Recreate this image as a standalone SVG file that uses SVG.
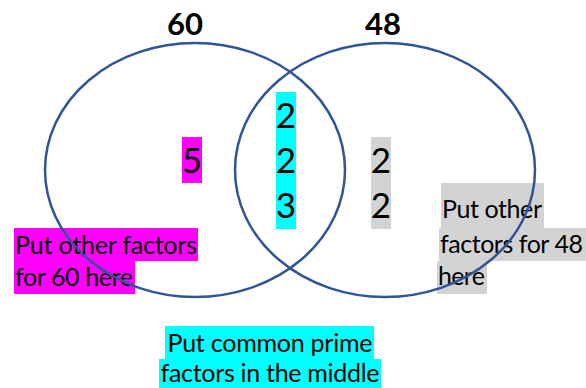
<svg xmlns="http://www.w3.org/2000/svg" width="586" height="388" viewBox="0 0 586 388">
  <style>
    .title { font-family: Lato, "Open Sans", "Liberation Sans", sans-serif; font-weight: bold; font-size: 31px; fill: #000; text-anchor: middle; }
    .digit { font-family: Lato, "Open Sans", "Liberation Sans", sans-serif; font-size: 35px; fill: #000; text-anchor: middle; }
    .label { font-family: Lato, "Open Sans", "Liberation Sans", sans-serif; font-size: 25px; fill: #000; }
    .mid { text-anchor: middle; }
    .cyan { fill: #00FFFF; }
    .magenta { fill: #FF00FF; }
    .grey { fill: #D3D3D3; }
    .set { fill: none; stroke: #2F5597; stroke-width: 2.5; }
  </style>
  <rect width="586" height="388" fill="#FFFFFF"/>

  <!-- set titles -->
  <g id="title-60"><text class="title" x="185" y="35">60</text></g>
  <g id="title-48"><text class="title" x="383" y="35">48</text></g>

  <!-- factors only in 60 -->
  <g id="only-60">
    <rect class="magenta" x="182" y="137" width="20" height="46"/>
    <text class="digit" x="192" y="173">5</text>
  </g>

  <!-- common prime factors -->
  <g id="common">
    <rect class="cyan" x="276" y="92" width="20" height="137"/>
    <text class="digit" x="286" y="128">2</text>
    <text class="digit" x="286" y="173">2</text>
    <text class="digit" x="286" y="218">3</text>
  </g>

  <!-- factors only in 48 -->
  <g id="only-48">
    <rect class="grey" x="371" y="137" width="20" height="92"/>
    <text class="digit" x="381" y="173">2</text>
    <text class="digit" x="381" y="218">2</text>
  </g>

  <!-- hint for 60 -->
  <g id="hint-60">
    <rect class="magenta" x="14" y="228" width="184" height="33"/>
    <rect class="magenta" x="14" y="261" width="121" height="33"/>
    <text class="label" x="15" y="254" textLength="182">Put other factors</text>
    <text class="label" x="15" y="286" textLength="118">for 60 here</text>
  </g>

  <!-- hint for 48 -->
  <g id="hint-48">
    <rect class="grey" x="441" y="183" width="103" height="45"/>
    <rect class="grey" x="439" y="228" width="147" height="33"/>
    <rect class="grey" x="437" y="261" width="50" height="33"/>
    <text class="label" x="442" y="218" textLength="100">Put other</text>
    <text class="label" x="440" y="253" textLength="143">factors for 48</text>
    <text class="label" x="438" y="285" textLength="47">here</text>
  </g>

  <!-- hint for the middle -->
  <g id="hint-common">
    <rect class="cyan" x="165" y="326" width="209" height="33"/>
    <rect class="cyan" x="159" y="359" width="222" height="29"/>
    <text class="label mid" x="270" y="352" textLength="205">Put common prime</text>
    <text class="label mid" x="270" y="382" textLength="219">factors in the middle</text>
  </g>

  <!-- the two sets, drawn over the labels -->
  <g id="connectors"></g>
  <g id="sets">
    <ellipse id="set-60" class="set" cx="195" cy="170" rx="150" ry="127"/>
    <ellipse id="set-48" class="set" cx="385" cy="170" rx="150" ry="127"/>
  </g>
</svg>
